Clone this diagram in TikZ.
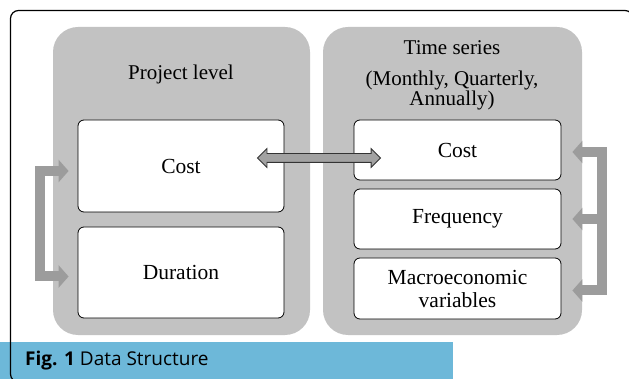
\documentclass[tikz,border=0pt]{standalone}
\usepackage{fontspec}
\setmainfont{Liberation Serif}
\newfontfamily\capfont{Open Sans}
\usepackage{tikz}
\usetikzlibrary{positioning,arrows.meta,shapes.arrows,calc}
\definecolor{panelgray}{HTML}{C2C2C2}
\definecolor{flowgray}{HTML}{9C9C9C}
\definecolor{linkgray}{HTML}{A2A2A2}
\definecolor{captionblue}{HTML}{6DB8D9}

\begin{document}
\begin{tikzpicture}[x=1pt, y=-1pt,
    panel/.style={fill=panelgray, rounded corners=25pt, inner sep=0pt},
    databox/.style={draw, fill=white, rounded corners=6pt, line width=0.8pt,
                    font=\fontsize{21.5}{23}\selectfont, align=center, inner sep=0pt},
    heading/.style={font=\fontsize{21}{20}\selectfont, align=center, inner sep=0pt},
    flow/.style={draw=flowgray, line width=10pt, line join=miter},
    flowtip/.tip={Triangle[length=10pt, width=22pt]},
    linkarrow/.style={double arrow, draw=black!80, fill=linkgray, line width=0.8pt,
                      inner sep=0pt, text height=4pt, text depth=4pt, text width=0pt,
                      double arrow head extend=5pt},
]
\clip (0,0) rectangle (629,379);

% the two groups
\node[panel, minimum width=257pt, minimum height=308pt] (lpanel) at (181.5,181) {};
\node[panel, minimum width=259pt, minimum height=308pt] (rpanel) at (452.5,181) {};

\node[heading] (ltitle) at (181,74) {Project level};
\node[heading] (rtitle) at (452,48) {Time series};
\node[heading] (rsub) at (452,90) {(Monthly, Quarterly,\\Annually)};

% project level boxes
\node[databox, minimum width=206pt, minimum height=92pt] (lcost) at (181,166) {Cost};
\node[databox, minimum width=206pt, minimum height=91pt] (ldur) at (181,272.5) {Duration};

% time series boxes
\node[databox, minimum width=207pt, minimum height=60pt] (rcost) at (457.5,150) {Cost};
\node[databox, minimum width=207pt, minimum height=60pt] (rfreq) at (457.5,219) {Frequency};
\node[databox, minimum width=207pt, minimum height=61pt] (rmac) at (457.5,288.5)
    {Macroeconomic\\variables};

% connectors
\node[linkarrow, minimum height=123pt] (link) at ($(lcost.east)!0.5!(rcost.west)$ |- rcost) {};
\draw[flow, flowtip-flowtip] ([shift={(-9,5)}]lcost.west) -- ++(-29,0) |- ([shift={(-9,4)}]ldur.west);
\draw[flow, flowtip-flowtip] ([shift={(11,2)}]rcost.east) -- ++(30,0) |- ([shift={(11,2)}]rmac.east);
\draw[flow, -flowtip] ([xshift=41]rfreq.east) -- ([xshift=11]rfreq.east);

% caption
\fill[captionblue] (0,342) rectangle (453,379);
\node[anchor=west, inner sep=0pt, font=\capfont\fontsize{19}{21}\selectfont] (caption) at (25,361)
    {\textbf{Fig. 1} Data Structure};
\draw[line width=1.2pt, rounded corners=8pt] (10.5,10.5) rectangle (633,382);
\end{tikzpicture}
\end{document}
